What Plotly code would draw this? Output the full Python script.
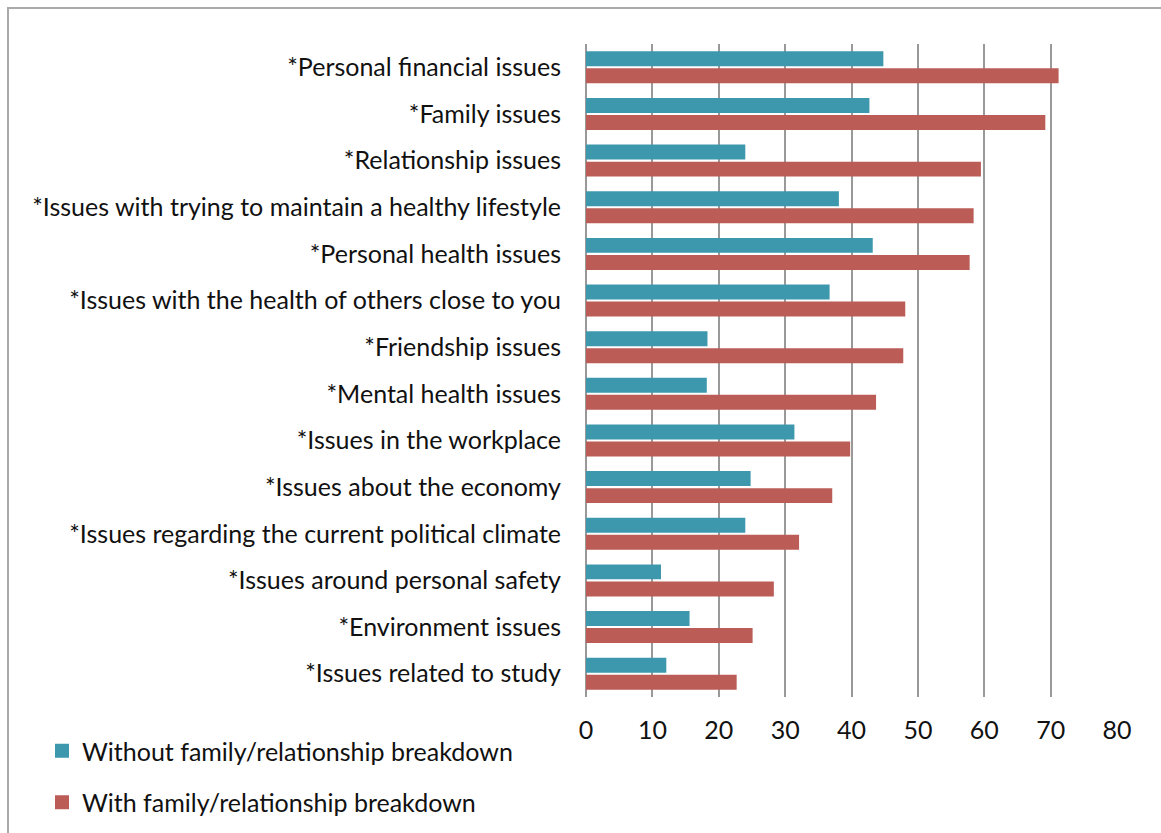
import plotly.graph_objects as go

categories = [
    "*Personal financial issues",
    "*Family issues",
    "*Relationship issues",
    "*Issues with trying to maintain a healthy lifestyle",
    "*Personal health issues",
    "*Issues with the health of others close to you",
    "*Friendship issues",
    "*Mental health issues",
    "*Issues in the workplace",
    "*Issues about the economy",
    "*Issues regarding the current political climate",
    "*Issues around personal safety",
    "*Environment issues",
    "*Issues related to study",
]
without_breakdown = [44.8, 42.7, 24.0, 38.1, 43.2, 36.7, 18.3, 18.2, 31.4, 24.8, 24.0, 11.3, 15.6, 12.1]
with_breakdown = [71.2, 69.2, 59.5, 58.4, 57.8, 48.1, 47.8, 43.7, 39.8, 37.1, 32.1, 28.3, 25.1, 22.7]
series_names = ["Without family/relationship breakdown", "With family/relationship breakdown"]
series_colors = ["#3D98AE", "#BB5D56"]
x_ticks = [0, 10, 20, 30, 40, 50, 60, 70, 80]

W, H = 1161, 833
L, R, T, B = 586, 44, 44, 136
pw, ph = W - L - R, H - T - B

FONT = "Lato, Calibri, Carlito, sans-serif"
FS = 25

fig = go.Figure()
for vals, name, col, grp in [(without_breakdown, series_names[0], series_colors[0], "a"),
                             (with_breakdown, series_names[1], series_colors[1], "b")]:
    fig.add_trace(go.Bar(y=categories, x=vals, orientation="h", name=name,
                         marker=dict(color=col, line=dict(width=0)),
                         legendgroup=grp, showlegend=False))
# legend entries with larger square swatches
for name, col, grp in [(series_names[0], series_colors[0], "a"),
                       (series_names[1], series_colors[1], "b")]:
    fig.add_trace(go.Scatter(x=[None], y=[None], mode="markers", name=name,
                             marker=dict(symbol="square", size=14, color=col),
                             legendgroup=grp, showlegend=True))

def px_x(p):
    return (p - L) / pw

def px_y(p):
    return 1 - (p - T) / ph

fig.update_layout(
    width=W, height=H,
    margin=dict(l=L, r=R, t=T, b=B, autoexpand=False),
    paper_bgcolor="white", plot_bgcolor="white",
    barmode="group", bargap=0.27, bargroupgap=0.12,
    font=dict(family=FONT, size=FS, color="#111"),
    xaxis=dict(range=[0, 80], tickvals=x_ticks, showgrid=True, gridcolor="#999999", gridwidth=2,
               zeroline=True, zerolinecolor="#999999", zerolinewidth=2, showline=False,
               ticks="", ticklabelstandoff=16, tickfont=dict(size=FS, color="#111"),
               automargin=False),
    yaxis=dict(autorange="reversed", showgrid=False, showline=False, ticks="",
               ticklabelstandoff=24, tickfont=dict(size=FS, color="#111"), automargin=False),
    legend=dict(xref="container", yref="container", x=42 / W, y=1 - 728 / H,
                xanchor="left", yanchor="top", traceorder="grouped", tracegroupgap=16,
                font=dict(size=FS, color="#111"), bgcolor="rgba(0,0,0,0)"),
    showlegend=True,
    shapes=[dict(type="rect", xref="paper", yref="paper",
                 x0=px_x(8), x1=px_x(1170), y0=px_y(845), y1=px_y(8),
                 line=dict(color="#AAAAAA", width=2), fillcolor="rgba(0,0,0,0)", layer="below")],
)

fig.write_html("out.html")
